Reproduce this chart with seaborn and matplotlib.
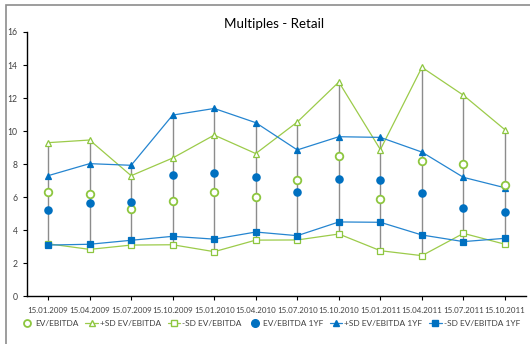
import matplotlib
matplotlib.use("Agg")
import matplotlib.pyplot as plt
from matplotlib.lines import Line2D
from matplotlib.patches import Rectangle
import seaborn as sns
import numpy as np

dates = ["15.01.2009", "15.04.2009", "15.07.2009", "15.10.2009", "15.01.2010", "15.04.2010",
         "15.07.2010", "15.10.2010", "15.01.2011", "15.04.2011", "15.07.2011", "15.10.2011"]

ev_ebitda = [6.30, 6.19, 5.28, 5.79, 6.30, 6.04, 7.02, 8.47, 5.87, 8.21, 8.03, 6.72]
ev_ebitda_plus_sd = [9.30, 9.46, 7.30, 8.37, 9.76, 8.64, 10.55, 12.97, 8.88, 13.86, 12.17, 10.08]
ev_ebitda_minus_sd = [3.18, 2.84, 3.10, 3.12, 2.70, 3.40, 3.41, 3.77, 2.76, 2.46, 3.81, 3.15]

ev_ebitda_1yf = [5.24, 5.63, 5.69, 7.32, 7.45, 7.21, 6.30, 7.12, 7.04, 6.27, 5.33, 5.08]
ev_ebitda_1yf_plus_sd = [7.30, 8.03, 7.93, 10.97, 11.37, 10.51, 8.86, 9.66, 9.62, 8.73, 7.20, 6.57]
ev_ebitda_1yf_minus_sd = [3.10, 3.15, 3.39, 3.63, 3.46, 3.89, 3.67, 4.50, 4.48, 3.71, 3.31, 3.51]

title = "Multiples - Retail"
y_ticks = list(range(0, 17, 2))

GREEN = "#8DC63F"
GREEN_LINE = "#9CCB4A"
BLUE = "#0070C0"
BLUE_LINE = "#2585D0"
TEXT = "#404040"

sns.set_theme(style="white")
plt.rcParams["font.family"] = ["Lato", "DejaVu Sans"]

fig = plt.figure(figsize=(5.30, 3.44), dpi=100)
ax = fig.add_axes([0.0515, 0.1387, 0.9405, 0.7683])

x = np.arange(len(dates))

# high-low connectors spanning every series at each date
all_series = np.array([ev_ebitda, ev_ebitda_plus_sd, ev_ebitda_minus_sd,
                       ev_ebitda_1yf, ev_ebitda_1yf_plus_sd, ev_ebitda_1yf_minus_sd])
ax.vlines(x, all_series.min(axis=0), all_series.max(axis=0), color="#8C8C8C", lw=1.0, zorder=1)

line_kw = dict(lw=0.9, markersize=5, markeredgewidth=0.9, zorder=3, legend=False)
sns.lineplot(x=x, y=ev_ebitda_plus_sd, ax=ax, color=GREEN_LINE, marker="^",
             markerfacecolor="white", markeredgecolor=GREEN, **line_kw)
sns.lineplot(x=x, y=ev_ebitda_minus_sd, ax=ax, color=GREEN_LINE, marker="s",
             markerfacecolor="white", markeredgecolor=GREEN, **line_kw)
sns.lineplot(x=x, y=ev_ebitda_1yf_plus_sd, ax=ax, color=BLUE_LINE, marker="^",
             markerfacecolor=BLUE, markeredgecolor=BLUE, **line_kw)
sns.lineplot(x=x, y=ev_ebitda_1yf_minus_sd, ax=ax, color=BLUE_LINE, marker="s",
             markerfacecolor=BLUE, markeredgecolor=BLUE, **line_kw)

sns.scatterplot(x=x, y=ev_ebitda, ax=ax, marker="o", s=30, facecolors="white",
                edgecolors=GREEN, linewidths=1.3, zorder=4, legend=False)
sns.scatterplot(x=x, y=ev_ebitda_1yf, ax=ax, marker="o", s=38, color=BLUE,
                edgecolor=BLUE, linewidth=0, zorder=4, legend=False)

ax.set_xlim(-0.5, len(dates) - 0.5)
ax.set_ylim(0, 16)
ax.set_yticks(y_ticks)
ax.set_yticklabels([str(v) for v in y_ticks], fontsize=6.2, color=TEXT)
ax.set_xticks(x)
ax.set_xticklabels(dates, fontsize=5.7, color=TEXT)
ax.tick_params(axis="both", which="both", direction="out", length=3, width=0.8,
               color="black", bottom=True, left=True)
ax.tick_params(axis="x", pad=5)
ax.tick_params(axis="y", pad=4)
ax.set_xlabel("")
ax.set_ylabel("")
for side in ("top", "right"):
    ax.spines[side].set_visible(False)
for side in ("left", "bottom"):
    ax.spines[side].set_color("black")
    ax.spines[side].set_linewidth(1.0)
ax.grid(False)

fig.text(0.518, 0.93, title, ha="center", va="center", fontsize=9.6, color="black")

handles = [
    Line2D([], [], ls="none", marker="o", markersize=5, markerfacecolor="white",
           markeredgecolor=GREEN, markeredgewidth=1.3),
    Line2D([], [], color=GREEN_LINE, lw=0.9, marker="^", markersize=4.5,
           markerfacecolor="white", markeredgecolor=GREEN),
    Line2D([], [], color=GREEN_LINE, lw=0.9, marker="s", markersize=4.5,
           markerfacecolor="white", markeredgecolor=GREEN),
    Line2D([], [], ls="none", marker="o", markersize=5.5, markerfacecolor=BLUE,
           markeredgecolor=BLUE),
    Line2D([], [], color=BLUE_LINE, lw=0.9, marker="^", markersize=4.5,
           markerfacecolor=BLUE, markeredgecolor=BLUE),
    Line2D([], [], color=BLUE_LINE, lw=0.9, marker="s", markersize=4.5,
           markerfacecolor=BLUE, markeredgecolor=BLUE),
]
labels = ["EV/EBITDA", "+SD EV/EBITDA", "-SD EV/EBITDA",
          "EV/EBITDA 1YF", "+SD EV/EBITDA 1YF", "-SD EV/EBITDA 1YF"]
leg = fig.legend(handles, labels, loc="center", bbox_to_anchor=(0.51, 0.06), ncol=6,
                 frameon=False, fontsize=6.0, handlelength=1.5, handletextpad=0.25,
                 columnspacing=0.8, borderpad=0)
for t in leg.get_texts():
    t.set_color(TEXT)

# chart frame
fig.patches.append(Rectangle((6 / 530, -0.05), 1.2, 1 - 5 / 344 + 0.05,
                             transform=fig.transFigure, fill=False,
                             edgecolor="#8C8C8C", lw=1.2, zorder=0))

fig.savefig("out.png", dpi=100, facecolor="white")
